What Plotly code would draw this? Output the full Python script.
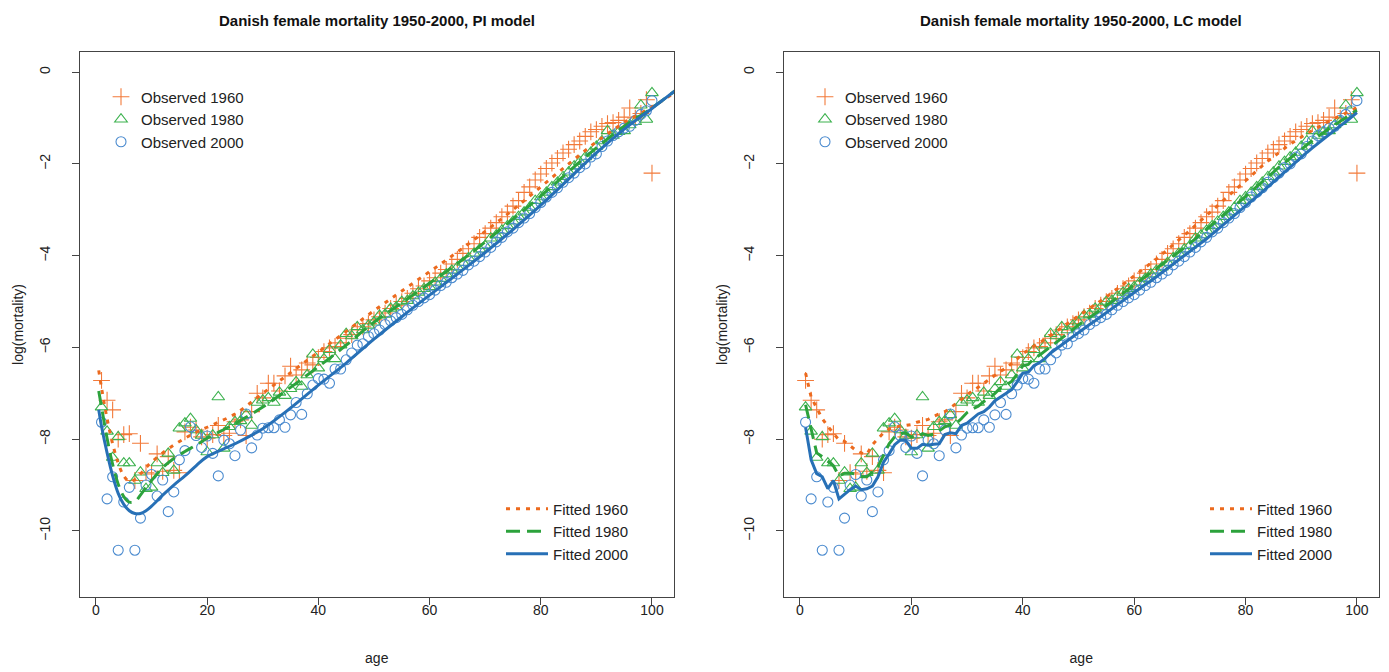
import plotly.graph_objects as go

# reference canvas size; the browser page adds an 8 px body margin
W_REF, H_REF = 1389, 672
OFF = 8
W, H = W_REF - OFF, H_REF - OFF

ages = list(range(1, 101))

obs_1960 = [-6.72, -7.15, -7.36, -8.00, -7.90, -7.88, -8.90, -8.09, -8.73, -8.76,
            -8.32, -8.70, -8.38, -8.68, -8.73, -7.84, -7.74, -7.80, -7.95, -7.98,
            -7.90, -7.70, -7.92, -7.87, -7.62, -7.58, -7.92, -7.40, -7.00, -7.10,
            -6.78, -6.78, -6.95, -6.62, -6.41, -6.60, -6.49, -6.34, -6.38, -6.22,
            -6.09, -6.01, -5.98, -5.90, -5.80, -5.72, -5.62, -5.55, -5.48, -5.40,
            -5.33, -5.25, -5.15, -5.08, -5.00, -4.93, -4.82, -4.72, -4.66, -4.55,
            -4.48, -4.38, -4.30, -4.18, -4.08, -3.95, -3.85, -3.74, -3.60, -3.52,
            -3.40, -3.28, -3.15, -3.05, -2.92, -2.80, -2.62, -2.50, -2.35, -2.22,
            -2.10, -1.98, -1.88, -1.76, -1.68, -1.58, -1.50, -1.40, -1.30, -1.25,
            -1.18, -1.12, -1.10, -1.05, -0.98, -0.78, -1.00, -0.90, -0.60, -2.20]

obs_1980 = [-7.30, -7.83, -8.40, -7.95, -8.52, -8.52, -8.90, -8.72, -9.08, -9.05,
            -8.52, -8.73, -8.31, -8.68, -7.76, -7.65, -7.55, -7.80, -7.92, -8.28,
            -7.91, -7.08, -8.20, -7.73, -7.62, -7.60, -7.47, -7.70, -7.20, -7.15,
            -7.10, -7.20, -6.98, -7.05, -6.90, -6.75, -6.85, -6.60, -6.15, -6.45,
            -6.25, -6.05, -6.25, -5.95, -5.70, -5.75, -5.55, -5.62, -5.52, -5.45,
            -5.30, -5.28, -5.15, -5.12, -5.00, -4.98, -4.88, -4.80, -4.72, -4.68,
            -4.58, -4.50, -4.40, -4.32, -4.25, -4.15, -4.05, -3.95, -3.86, -3.78,
            -3.62, -3.55, -3.45, -3.35, -3.25, -3.15, -3.05, -2.95, -2.80, -2.72,
            -2.62, -2.50, -2.40, -2.28, -2.18, -2.05, -1.95, -1.85, -1.75, -1.62,
            -1.50, -1.28, -1.38, -1.30, -1.28, -1.15, -1.08, -0.72, -1.03, -0.45]

obs_2000 = [-7.63, -9.30, -8.82, -10.42, -9.37, -9.05, -10.42, -9.72, -9.00, -8.77,
            -9.24, -8.89, -9.58, -9.15, -8.45, -8.25, -7.73, -7.92, -8.18, -7.93,
            -8.31, -8.80, -8.02, -8.10, -8.36, -7.80, -7.45, -8.19, -7.91, -7.76,
            -7.75, -7.75, -7.58, -7.74, -7.47, -7.20, -7.46, -7.01, -6.82, -6.68,
            -6.69, -6.78, -6.47, -6.47, -6.27, -6.12, -5.95, -5.92, -5.76, -5.70,
            -5.62, -5.50, -5.42, -5.35, -5.28, -5.18, -5.08, -5.00, -4.92, -4.85,
            -4.75, -4.65, -4.58, -4.48, -4.40, -4.32, -4.20, -4.12, -4.02, -3.92,
            -3.82, -3.70, -3.60, -3.48, -3.40, -3.28, -3.18, -3.08, -2.95, -2.84,
            -2.72, -2.62, -2.52, -2.40, -2.30, -2.20, -2.08, -2.00, -1.85, -1.78,
            -1.62, -1.50, -1.38, -1.30, -1.22, -1.18, -1.05, -0.92, -0.84, -0.62]

# PI model fitted curves (smooth), on an age grid
pi_age = [0.5, 1, 2, 3, 4, 5, 6, 7, 8, 9, 10, 12, 14, 16, 18, 20, 25, 30, 35, 40,
          45, 50, 55, 60, 65, 70, 75, 80, 85, 90, 95, 100, 104, 108]
pi_1960 = [-6.50, -6.88, -7.55, -8.10, -8.52, -8.80, -8.92, -8.88, -8.76, -8.62,
           -8.50, -8.30, -8.13, -7.98, -7.85, -7.74, -7.45, -7.00, -6.55, -6.10,
           -5.65, -5.20, -4.77, -4.35, -3.92, -3.47, -3.00, -2.50, -2.00, -1.52,
           -1.10, -0.76, -0.45, -0.12]
pi_1980 = [-6.95, -7.30, -7.98, -8.55, -8.98, -9.25, -9.37, -9.36, -9.22, -9.05,
           -8.90, -8.62, -8.42, -8.27, -8.13, -7.98, -7.66, -7.30, -6.87, -6.42,
           -5.95, -5.45, -5.03, -4.60, -4.17, -3.70, -3.20, -2.70, -2.17, -1.65,
           -1.18, -0.78, -0.42, -0.08]
pi_2000 = [-7.36, -7.72, -8.30, -8.80, -9.18, -9.42, -9.56, -9.62, -9.62, -9.56,
           -9.46, -9.22, -9.00, -8.80, -8.58, -8.38, -8.10, -7.77, -7.32, -6.82,
           -6.34, -5.82, -5.33, -4.86, -4.40, -3.93, -3.43, -2.90, -2.33, -1.76,
           -1.24, -0.79, -0.42, -0.08]

# LC model fitted values at ages 1..100
lc_1960 = [-6.56, -7.08, -7.32, -7.55, -7.72, -7.88, -8.02, -8.05, -8.15, -8.24,
           -8.30, -8.33, -8.12, -7.98, -7.86, -7.78, -7.74, -7.71, -7.70, -7.68,
           -7.63, -7.60, -7.57, -7.50, -7.45, -7.40, -7.32, -7.22, -7.12, -7.03,
           -6.94, -6.87, -6.78, -6.70, -6.60, -6.52, -6.45, -6.36, -6.25, -6.13,
           -6.06, -5.97, -5.90, -5.82, -5.74, -5.65, -5.57, -5.48, -5.40, -5.31,
           -5.23, -5.15, -5.06, -4.98, -4.90, -4.81, -4.72, -4.63, -4.54, -4.45,
           -4.36, -4.27, -4.17, -4.07, -3.97, -3.87, -3.77, -3.66, -3.55, -3.45,
           -3.34, -3.23, -3.12, -3.01, -2.90, -2.79, -2.68, -2.57, -2.46, -2.35,
           -2.25, -2.14, -2.04, -1.94, -1.84, -1.75, -1.66, -1.57, -1.49, -1.41,
           -1.34, -1.27, -1.20, -1.13, -1.07, -1.01, -0.95, -0.89, -0.83, -0.77]
lc_1980 = [-7.25, -7.80, -8.30, -8.38, -8.49, -8.58, -8.80, -8.74, -8.74, -8.76,
           -8.82, -8.82, -8.72, -8.60, -8.35, -8.10, -7.95, -7.87, -7.87, -7.95,
           -7.96, -7.88, -7.92, -7.89, -7.82, -7.73, -7.69, -7.66, -7.55, -7.42,
           -7.34, -7.28, -7.18, -7.11, -7.00, -6.88, -6.82, -6.74, -6.58, -6.40,
           -6.37, -6.24, -6.17, -6.08, -5.97, -5.88, -5.79, -5.70, -5.61, -5.51,
           -5.43, -5.35, -5.26, -5.18, -5.09, -5.00, -4.92, -4.83, -4.74, -4.66,
           -4.57, -4.48, -4.39, -4.30, -4.21, -4.12, -4.02, -3.93, -3.83, -3.73,
           -3.63, -3.53, -3.43, -3.33, -3.23, -3.13, -3.02, -2.92, -2.81, -2.71,
           -2.60, -2.50, -2.39, -2.28, -2.18, -2.07, -1.97, -1.87, -1.77, -1.67,
           -1.58, -1.49, -1.40, -1.31, -1.23, -1.15, -1.07, -0.99, -0.91, -0.83]
lc_2000 = [-7.74, -8.45, -8.75, -8.82, -9.08, -8.90, -9.30, -9.19, -9.10, -9.02,
           -9.10, -9.08, -9.02, -8.82, -8.50, -8.32, -8.12, -8.02, -8.03, -8.20,
           -8.20, -8.11, -8.13, -8.11, -8.10, -7.90, -7.86, -7.88, -7.70, -7.65,
           -7.55, -7.45, -7.40, -7.30, -7.16, -7.08, -7.00, -6.92, -6.75, -6.56,
           -6.54, -6.40, -6.33, -6.24, -6.12, -6.03, -5.94, -5.85, -5.76, -5.66,
           -5.58, -5.50, -5.42, -5.33, -5.24, -5.16, -5.07, -4.98, -4.90, -4.81,
           -4.72, -4.63, -4.55, -4.46, -4.37, -4.28, -4.19, -4.10, -4.01, -3.92,
           -3.83, -3.73, -3.63, -3.53, -3.43, -3.33, -3.23, -3.13, -3.03, -2.93,
           -2.82, -2.72, -2.61, -2.50, -2.39, -2.28, -2.18, -2.07, -1.96, -1.85,
           -1.75, -1.65, -1.55, -1.45, -1.36, -1.27, -1.17, -1.08, -0.98, -0.88]

x_ticks = [0, 20, 40, 60, 80, 100]
y_ticks = [0, -2, -4, -6, -8, -10]
titles = ["Danish female mortality 1950-2000, PI model",
          "Danish female mortality 1950-2000, LC model"]
obs_names = ["Observed 1960", "Observed 1980", "Observed 2000"]
fit_names = ["Fitted 1960", "Fitted 1980", "Fitted 2000"]

FONT = "Liberation Sans, Arial, Helvetica, sans-serif"
obs_colors = ["#F27A3A", "#3DB24F", "#4B8BCF"]
fit_colors = ["#EC6A1E", "#2CA23C", "#2770B6"]
obs_symbols = ["cross-thin-open", "triangle-up-open", "circle-open"]
obs_sizes = [12, 11, 10]
fit_dash = ["4px,6px", "14px,7px", "solid"]

# plot boxes in reference pixels
boxes = [(79.5, 674.0), (783.5, 1379.0)]
box_top, box_bot = 52.0, 597.0

fig = go.Figure()
obs_series = [obs_1960, obs_1980, obs_2000]
pi_series = [pi_1960, pi_1980, pi_2000]
lc_series = [lc_1960, lc_1980, lc_2000]

for p in range(2):
    xa = "x" if p == 0 else "x2"
    ya = "y" if p == 0 else "y2"
    lg_obs = "legend" if p == 0 else "legend3"
    lg_fit = "legend2" if p == 0 else "legend4"
    for i in range(3):
        fig.add_trace(go.Scatter(
            x=ages, y=obs_series[i], mode="markers", name=obs_names[i],
            xaxis=xa, yaxis=ya, legend=lg_obs,
            marker=dict(symbol=obs_symbols[i], size=obs_sizes[i],
                        color=obs_colors[i], line=dict(width=1.1, color=obs_colors[i])),
            cliponaxis=True))
    for i in range(3):
        if p == 0:
            xs, ys, shape = pi_age, pi_series[i], "spline"
        else:
            xs, ys, shape = ages, lc_series[i], "linear"
        fig.add_trace(go.Scatter(
            x=xs, y=ys, mode="lines", name=fit_names[i],
            xaxis=xa, yaxis=ya, legend=lg_fit,
            line=dict(color=fit_colors[i], width=3, dash=fit_dash[i], shape=shape)))


def px2x(px):
    return (px - OFF) / W


def py2y(py):
    return 1 - (py - OFF) / H


axis_common = dict(showline=True, mirror=True, linecolor="#444", linewidth=1,
                   ticks="outside", ticklen=7, tickcolor="#444", tickwidth=1,
                   showgrid=False, zeroline=False,
                   tickfont=dict(family=FONT, size=14, color="#222"))

layout = dict(width=W, height=H, margin=dict(l=0, r=0, t=0, b=0),
              plot_bgcolor="white", paper_bgcolor="white",
              font=dict(family=FONT, color="#222"))

for p in range(2):
    sfx = "" if p == 0 else "2"
    x0, x1 = boxes[p]
    layout["xaxis" + sfx] = dict(axis_common, domain=[px2x(x0), px2x(x1)],
                                 range=[-2.96, 103.96], tickvals=x_ticks,
                                 anchor="y" + sfx, ticklabelstandoff=-7,
                                 title=dict(text="age", font=dict(family=FONT, size=14, color="#222"),
                                            standoff=36))
    layout["yaxis" + sfx] = dict(axis_common, domain=[py2y(box_bot), py2y(box_top)],
                                 range=[-11.44, 0.44], tickvals=y_ticks,
                                 tickangle=-90, anchor="x" + sfx, ticklabelstandoff=16,
                                 title=dict(text="log(mortality)", font=dict(family=FONT, size=14, color="#222"),
                                            standoff=10))

leg_common = dict(bgcolor="rgba(0,0,0,0)", borderwidth=0, xanchor="left", yanchor="top",
                  font=dict(family=FONT, size=15, color="#222"), tracegroupgap=0)
layout["legend"] = dict(leg_common, x=px2x(101), y=py2y(80.5))
layout["legend3"] = dict(leg_common, x=px2x(805), y=py2y(80.5))
layout["legend2"] = dict(leg_common, x=px2x(501), y=py2y(492.5), itemwidth=42)
layout["legend4"] = dict(leg_common, x=px2x(1205), y=py2y(492.5), itemwidth=42)

annotations = []
for p in range(2):
    x0, x1 = boxes[p]
    annotations.append(dict(text="<b>" + titles[p] + "</b>", x=px2x((x0 + x1) / 2), y=py2y(20),
                            xref="paper", yref="paper", showarrow=False,
                            font=dict(family=FONT, size=15, color="#111"),
                            xanchor="center", yanchor="middle"))
layout["annotations"] = annotations

fig.update_layout(**layout)
fig.write_html("out.html")
